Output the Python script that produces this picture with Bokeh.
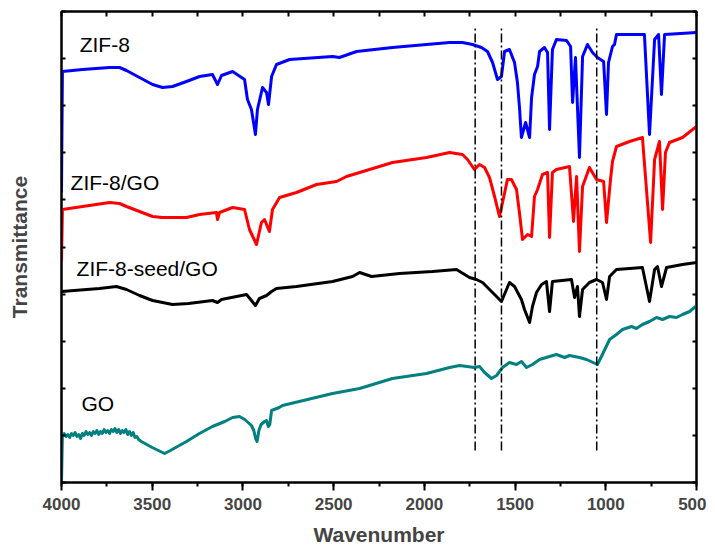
import numpy as np
from bokeh.plotting import figure
from bokeh.models import (Range1d, LinearAxis, FixedTicker, SingleIntervalTicker,
                          CustomJSTickFormatter)
from bokeh.core.properties import value
from bokeh.embed import file_html
from bokeh.resources import INLINE

# ---------------- data (wavenumber in cm-1, transmittance in a.u., offset spectra) -------------
zif8_wn = [4000, 3995, 3884, 3735, 3680, 3642, 3570, 3498, 3443, 3388, 3311, 3239, 3168, 3140,
           3118, 3057, 2991, 2975, 2953, 2931, 2920, 2892, 2870, 2859, 2842, 2815, 2743, 2506,
           2468, 2374, 2176, 1988, 1861, 1790, 1735, 1685, 1652, 1624, 1597, 1575, 1558, 1531,
           1503, 1487, 1476, 1465, 1442, 1420, 1409, 1393, 1376, 1365, 1338, 1321, 1310, 1294,
           1272, 1216, 1194, 1183, 1167, 1145, 1128, 1101, 1073, 1046, 1012, 996, 985, 963, 952,
           941, 787, 759, 731, 709, 693, 676, 500]
zif8_t = [290, 411, 413, 415, 415, 412, 405, 398, 395, 396, 401, 406, 408, 398,
          407, 411, 403, 383, 373, 348, 373, 395, 390, 378, 406, 418, 423, 426,
          425, 431, 435, 438, 440, 440, 438, 435, 431, 420, 403, 406, 431, 433,
          420, 400, 376, 345, 360, 345, 385, 408, 416, 431, 435, 430, 353, 433,
          443, 442, 436, 380, 425, 325, 426, 438, 430, 425, 421, 368, 420, 436, 438,
          448, 448, 348, 443, 448, 388, 448, 450]

zif8go_wn = [4000, 3995, 3735, 3680, 3642, 3570, 3498, 3443, 3311, 3239, 3146, 3140, 3129, 3057,
             2991, 2964, 2925, 2898, 2881, 2854, 2837, 2798, 2705, 2594, 2484, 2429, 2302, 2176,
             1988, 1861, 1790, 1762, 1724, 1696, 1668, 1641, 1613, 1586, 1569, 1542, 1520, 1492,
             1476, 1459, 1431, 1409, 1393, 1376, 1349, 1321, 1310, 1294, 1272, 1200, 1178, 1161,
             1145, 1128, 1090, 1051, 1012, 996, 974, 963, 941, 869, 798, 753, 731, 704, 687, 671,
             649, 577, 500]
zif8go_t = [221, 273, 280, 279, 276, 271, 266, 265, 265, 268, 270, 263, 270, 275,
            273, 253, 238, 260, 263, 251, 273, 285, 290, 298, 301, 306, 313, 320,
            325, 330, 328, 323, 313, 318, 315, 305, 286, 266, 280, 303, 303, 293,
            270, 243, 248, 246, 286, 293, 308, 310, 245, 310, 313, 316, 261, 306,
            231, 296, 315, 303, 301, 260, 303, 321, 336, 341, 345, 240, 323, 341, 273, 330,
            340, 345, 356]

seedgo_wn = [4000, 3791, 3697, 3642, 3570, 3498, 3443, 3388, 3300, 3168, 3140, 3118, 2980, 2953,
             2931, 2909, 2870, 2842, 2815, 2705, 2506, 2396, 2357, 2291, 2137, 1955, 1823, 1751,
             1713, 1679, 1575, 1531, 1503, 1465, 1448, 1420, 1404, 1382, 1354, 1327, 1310, 1294,
             1189, 1172, 1156, 1145, 1128, 1090, 1051, 1018, 996, 979, 941, 798, 759, 731, 715,
             693, 665, 577, 500]
seedgo_t = [191, 194, 196, 193, 187, 182, 180, 178, 179, 182, 180, 183, 188, 182,
            177, 184, 187, 191, 194, 196, 201, 206, 210, 206, 209, 211, 213, 205,
            203, 200, 181, 200, 196, 183, 173, 160, 176, 190, 198, 201, 171, 201,
            203, 185, 196, 166, 193, 200, 203, 200, 183, 206, 213, 215, 181, 213, 216,
            196, 215, 218, 220]

go_wn = [4000, 3995, 3985, 3975, 3965, 3955, 3945, 3935, 3925, 3915, 3905, 3895, 3885, 3875,
         3865, 3855, 3845, 3835, 3825, 3815, 3805, 3795, 3785, 3775, 3765, 3755, 3745, 3735,
         3725, 3715, 3705, 3695, 3685, 3675, 3665, 3655, 3645, 3635, 3625, 3615, 3605, 3595,
         3585, 3575, 3560, 3500, 3432, 3400, 3311, 3240, 3168, 3100, 3057, 3019, 2990, 2953,
         2940, 2930, 2922, 2912, 2900, 2880, 2870, 2860, 2852, 2842, 2800, 2782, 2506, 2357,
         2176, 1988, 1861, 1806, 1724, 1696, 1668, 1630, 1602, 1569, 1531, 1492, 1465, 1437,
         1404, 1365, 1310, 1272, 1227, 1200, 1145, 1106, 1046, 1024, 979, 941, 908, 858, 831,
         798, 759, 720, 687, 649, 610, 577, 538, 505]
go_t = [0, 47, 49, 46, 48, 45, 49, 47, 50, 46, 48, 44, 49, 47,
        51, 48, 50, 47, 51, 49, 52, 48, 51, 49, 53, 50, 52, 49,
        53, 51, 54, 50, 53, 49, 52, 50, 53, 48, 51, 47, 50, 45,
        46, 43, 41, 35, 29, 32, 41, 49, 56, 61, 65, 66, 63, 57,
        52, 44, 41, 52, 58, 61, 62, 56, 58, 72, 75, 77, 89, 94,
        104, 109, 115, 117, 115, 116, 110, 104, 107, 115, 120, 118, 121, 115,
        118, 123, 126, 128, 125, 127, 125, 123, 118, 126, 143, 148, 153, 156, 154,
        158, 161, 165, 163, 166, 165, 168, 171, 176]

series_names = ["ZIF-8", "ZIF-8/GO", "ZIF-8-seed/GO", "GO"]
series_colors = ["#0000FF", "#FF0000", "#000000", "#008080"]

# marker lines (cm-1)
marker_wn = [1720, 1575, 1050]

# ticks
x_tick_interval = 500
y_tick_step = 47.1
y_ticks = list(np.arange(0, 472, y_tick_step))

# ---------------- figure -------------
p = figure(frame_width=635, frame_height=471, output_backend="svg", toolbar_location=None,
           x_range=Range1d(4000, 500), y_range=Range1d(0, 471),
           min_border_left=61, min_border_right=10, min_border_top=11, min_border_bottom=10)
p.xgrid.visible = False
p.ygrid.visible = False
p.outline_line_color = "black"
p.outline_line_width = 2
p.background_fill_color = "white"
p.border_fill_color = "white"

xs = [zif8_wn, zif8go_wn, seedgo_wn, go_wn]
ys = [zif8_t, zif8go_t, seedgo_t, go_t]
for x, y, c in zip(xs, ys, series_colors):
    p.line(x, y, line_color=c, line_width=3, line_join="round")

p.segment(x0=marker_wn, x1=marker_wn, y0=[32] * 3, y1=[455] * 3,
          line_color="black", line_width=1.5, line_dash="9 3 2 3")

# series labels
lab_x = [3900, 3950, 3917, 3890]
lab_y = [438, 300, 214, 79]
p.text(x=lab_x, y=lab_y, text=series_names, text_font=value("Liberation Sans"),
       text_font_size="21px", text_baseline="middle", text_align="left", text_color="black")

blank = CustomJSTickFormatter(code="return ''")

for ax in p.xaxis:
    ax.ticker = SingleIntervalTicker(interval=x_tick_interval, num_minor_ticks=2)
    ax.axis_label = "Wavenumber"
    ax.axis_label_text_font = "Liberation Sans"
    ax.axis_label_text_font_style = "bold"
    ax.axis_label_text_font_size = "21px"
    ax.axis_label_text_line_height = 1.0
    ax.axis_label_standoff = 10
    ax.major_label_text_font = "Liberation Sans"
    ax.major_label_text_font_style = "bold"
    ax.major_label_text_font_size = "17px"
    ax.major_label_text_line_height = 1.0
    ax.major_label_standoff = 7
    ax.major_tick_in = 0
    ax.major_tick_out = 8
    ax.minor_tick_in = 0
    ax.minor_tick_out = 4
    ax.axis_line_width = 2
    ax.major_tick_line_width = 2
    ax.minor_tick_line_width = 2

for ax in p.yaxis:
    ax.ticker = FixedTicker(ticks=y_ticks, minor_ticks=[])
    ax.formatter = blank
    ax.axis_label = "Transmittance"
    ax.axis_label_text_font = "Liberation Sans"
    ax.axis_label_text_font_style = "bold"
    ax.axis_label_text_font_size = "21px"
    ax.axis_label_standoff = 31
    ax.major_label_text_font_size = "1px"
    ax.major_label_text_color = None
    ax.major_label_standoff = 0
    ax.major_tick_in = 4
    ax.major_tick_out = 0
    ax.minor_tick_in = 0
    ax.minor_tick_out = 0
    ax.axis_line_width = 2
    ax.major_tick_line_width = 2

top = LinearAxis(ticker=SingleIntervalTicker(interval=250, num_minor_ticks=0), formatter=blank,
                 major_label_text_font_size="1px", major_label_text_color=None, major_label_standoff=0,
                 major_tick_in=5, major_tick_out=0,
                 minor_tick_in=0, minor_tick_out=0, axis_line_width=2, major_tick_line_width=2)
p.add_layout(top, "above")
right = LinearAxis(ticker=FixedTicker(ticks=y_ticks, minor_ticks=[]), formatter=blank,
                   major_label_text_font_size="1px", major_label_text_color=None, major_label_standoff=0,
                   major_tick_in=4, major_tick_out=0,
                   minor_tick_in=0, minor_tick_out=0, axis_line_width=2, major_tick_line_width=2)
p.add_layout(right, "right")

open("out.html", "w").write(file_html(p, INLINE))
